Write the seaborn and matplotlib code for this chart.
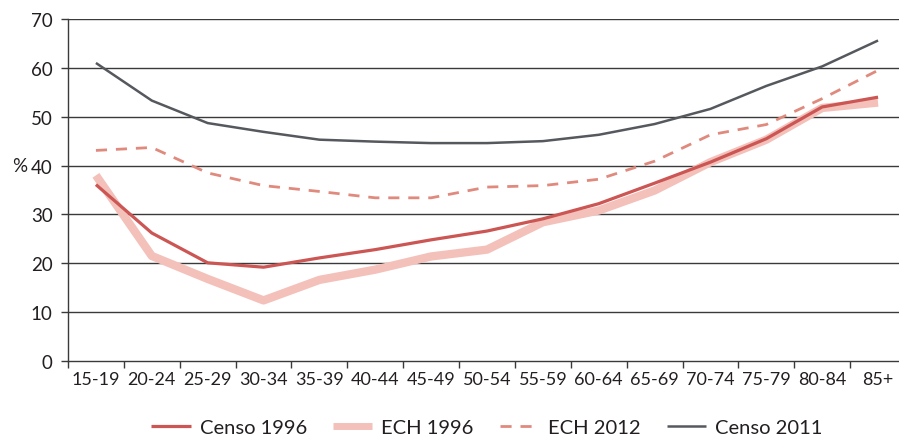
import pandas as pd
import numpy as np
import matplotlib.pyplot as plt
import seaborn as sns
from matplotlib.ticker import FixedLocator

sns.set_style('white')
plt.rcParams['font.family'] = ['Lato', 'DejaVu Sans']
plt.rcParams['lines.solid_capstyle'] = 'butt'
plt.rcParams['lines.dash_capstyle'] = 'butt'

# Data
age_groups = ['15-19', '20-24', '25-29', '30-34', '35-39', '40-44', '45-49', '50-54',
              '55-59', '60-64', '65-69', '70-74', '75-79', '80-84', '85+']
censo_1996 = [36.1, 26.2, 20.1, 19.2, 21.1, 22.8, 24.8, 26.6, 29.1, 32.2, 36.4, 40.7, 45.5, 52.0, 54.0]
ech_1996 = [38.0, 21.5, 16.8, 12.4, 16.6, 18.7, 21.4, 22.8, 28.4, 30.8, 34.9, 40.7, 45.3, 51.8, 52.9]
ech_2012 = [43.1, 43.7, 38.5, 35.9, 34.7, 33.4, 33.4, 35.6, 35.9, 37.2, 40.9, 46.3, 48.4, 53.7, 59.5]
censo_2011 = [61.0, 53.3, 48.7, 46.9, 45.3, 44.9, 44.6, 44.6, 45.0, 46.3, 48.5, 51.6, 56.3, 60.3, 65.6]

df = pd.DataFrame({'edad': age_groups, 'Censo 1996': censo_1996, 'ECH 1996': ech_1996,
                   'ECH 2012': ech_2012, 'Censo 2011': censo_2011})

fig = plt.figure(figsize=(8.99, 4.39), dpi=100)
ax = fig.add_axes([68 / 899, 77 / 439, 838 / 899, 342 / 439])

# grid first, under the lines
for v in range(10, 80, 10):
    ax.axhline(v, color='#3a3a3a', lw=1.0, zorder=0)

sns.lineplot(data=df, x='edad', y='ECH 1996', ax=ax, color='#f4c0ba', lw=6, label='ECH 1996', zorder=2)
sns.lineplot(data=df, x='edad', y='Censo 1996', ax=ax, color='#cb5654', lw=2.3, label='Censo 1996', zorder=3)
sns.lineplot(data=df, x='edad', y='ECH 2012', ax=ax, color='#e08a7e', lw=2.0, label='ECH 2012',
             dashes=False, zorder=3)
ax.lines[-1].set_dashes([4, 3.2])
sns.lineplot(data=df, x='edad', y='Censo 2011', ax=ax, color='#55595e', lw=1.8, label='Censo 2011', zorder=4)

ax.set_xlim(-0.5, len(age_groups) - 0.5)
ax.set_ylim(0, 70)
ax.set_yticks(range(0, 80, 10))
ax.set_xlabel('')
ax.set_ylabel('')
fig.text(20 / 899, 1 - 166 / 439, '%', ha='center', va='center', fontsize=13.5, color='#231f20')

# tick marks on category boundaries, labels on centres
ax.xaxis.set_major_locator(FixedLocator(np.arange(-0.5, len(age_groups), 1.0)))
ax.xaxis.set_minor_locator(FixedLocator(np.arange(len(age_groups))))
ax.set_xticklabels([])
ax.set_xticklabels(age_groups, minor=True)
ax.tick_params(axis='x', which='major', length=5, width=1, color='#3a3a3a', direction='out')
ax.tick_params(axis='x', which='minor', length=0, pad=7, labelsize=13, labelcolor='#231f20')
ax.tick_params(axis='y', length=5, width=1, color='#3a3a3a', direction='out', pad=6,
               labelsize=13.5, labelcolor='#231f20')
ax.tick_params(bottom=True, left=True)

for s in ['top', 'right']:
    ax.spines[s].set_visible(False)
for s in ['left', 'bottom']:
    ax.spines[s].set_color('#3a3a3a')
    ax.spines[s].set_linewidth(1.0)

handles, labels = ax.get_legend_handles_labels()
order = ['Censo 1996', 'ECH 1996', 'ECH 2012', 'Censo 2011']
hmap = dict(zip(labels, handles))
leg = ax.legend([hmap[k] for k in order], order, loc='center', bbox_to_anchor=(487 / 899, 11 / 439),
                bbox_transform=fig.transFigure, ncol=4, frameon=False, fontsize=14.5,
                handlelength=1.95, columnspacing=1.3, handletextpad=0.45, labelcolor='#231f20',
                borderpad=0, borderaxespad=0)
leg.get_lines()[1].set_linewidth(5)

fig.savefig('out.png', dpi=100)
